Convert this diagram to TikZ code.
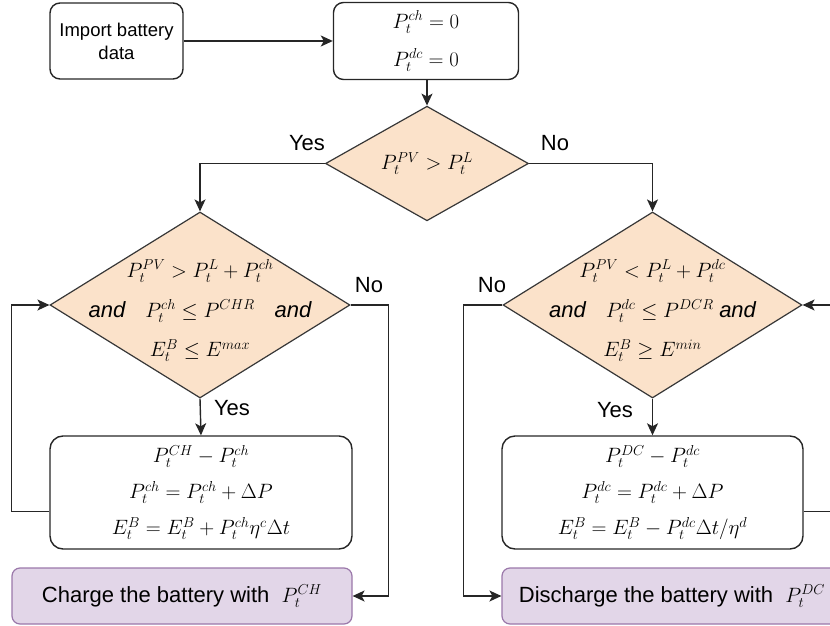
\documentclass[tikz,border=0pt]{standalone}
\usepackage{amsmath,amssymb}
\usepackage{fontspec}
\setmainfont{Liberation Sans}
\usepackage{tikz}
\usetikzlibrary{shapes,arrows,positioning,calc,arrows.meta}

\definecolor{condfill}{RGB}{251,226,202}
\definecolor{condedge}{RGB}{55,55,55}
\definecolor{endfill}{RGB}{226,214,232}
\definecolor{endedge}{RGB}{155,120,170}

% keeps the text of a decision from growing the diamond
\newcommand{\condlines}[1]{\smash{\makebox[0pt]{\raisebox{-12pt}{\begin{tabular}{@{}c@{}}#1\end{tabular}}}}}
\newcommand{\andword}{{\fontsize{22}{24}\selectfont\itshape and}}

\tikzset{
    procbox/.style={draw=black!85, line width=1.4pt, rounded corners=10pt, align=center, inner sep=2pt},
    decision/.style={diamond, draw=condedge, fill=condfill, line width=1.2pt, inner sep=0pt},
    endbox/.style={draw=endedge, fill=endfill, line width=1.2pt, rounded corners=8pt, inner sep=2pt,
        font=\fontsize{22}{26}\selectfont},
    lbl/.style={font=\fontsize{22}{26}\selectfont},
    flow/.style={draw=black!85, line width=1.4pt, -{Stealth[length=12pt,width=11pt,inset=3pt]}},
}

\begin{document}
\begin{tikzpicture}[x=1pt, y=-1pt, node distance=1.5cm,
    every node/.style={font=\fontsize{20}{24}\selectfont}]
    \useasboundingbox (0,0) rectangle (830,626);
    \clip (0,0) rectangle (830,626);

    % top row
    \node[procbox, minimum width=133pt, minimum height=76pt, font=\fontsize{18.5}{23}\selectfont] (import) at (116.5,41) {Import battery\\data};
    \node[procbox, minimum width=185pt, minimum height=77pt] (init) at (426,41) {$P_t^{ch}=0$\\[14pt]$P_t^{dc}=0$};

    % decisions
    \node[decision, minimum width=203pt, minimum height=93pt] (pvload) at (427,163.5) {$P_t^{PV} > P_t^{L}$};
    \node[decision, minimum width=300pt, minimum height=186pt] (chgcond) at (200,305)
        {\condlines{$P_t^{PV} > P_t^{L} + P_t^{ch}$\\[15pt]
        \andword\quad $P_t^{ch} \le P^{CHR}$\quad \andword\\[15pt]
        $E_t^{B} \le E^{max}$}};
    \node[decision, minimum width=299pt, minimum height=186pt] (dchcond) at (652.5,305)
        {\condlines{$P_t^{PV} < P_t^{L} + P_t^{dc}$\\[15pt]
        \andword\quad $P_t^{dc} \le P^{DCR}$\ \andword\\[15pt]
        $E_t^{B} \ge E^{min}$}};

    % updates
    \node[procbox, rounded corners=13pt, minimum width=302pt, minimum height=113pt] (chgstep) at (201,492.5)
        {$P_t^{CH} - P_t^{ch}$\\[12pt]$P_t^{ch} = P_t^{ch} + \Delta P$\\[12pt]$E_t^{B} = E_t^{B} + P_t^{ch}\eta^{c}\Delta t$};
    \node[procbox, rounded corners=13pt, minimum width=301pt, minimum height=113pt] (dchstep) at (652.5,492.5)
        {$P_t^{DC} - P_t^{dc}$\\[12pt]$P_t^{dc} = P_t^{dc} + \Delta P$\\[12pt]$E_t^{B} = E_t^{B} - P_t^{dc}\Delta t/\eta^{d}$};

    % results
    \node[endbox, minimum width=340pt, minimum height=56pt] (chgend) at (182,596) {Charge the battery with\ \ $P_t^{CH}$};
    \node[endbox, minimum width=340pt, minimum height=56pt] (dchend) at (672,596) {Discharge the battery with\ \ $P_t^{DC}$};

    % labels
    \node[lbl] (yes0) at (307,143) {Yes};
    \node[lbl] (no0) at (555,143) {No};
    \node[lbl] (no1) at (369,285) {No};
    \node[lbl] (yes1) at (232,408) {Yes};
    \node[lbl] (no2) at (492,285) {No};
    \node[lbl] (yes2) at (615,410) {Yes};

    % connectors
    \draw[flow] (import) -- (init);
    \draw[flow] (init.south -| pvload.north) -- (pvload.north);
    \draw[flow] (pvload.west) -| (chgcond.north);
    \draw[flow] (pvload.east) -| (dchcond.north);
    \draw[flow] (chgcond.south) -- (chgstep.north);
    \draw[flow] (dchcond.south) -- (dchstep.north);
    \draw[flow] (chgcond.east) -- ++(38,0) |- (chgend.east);
    \draw[flow] (dchcond.west) -- ++(-39,0) |- (dchend.west);
    \draw[flow] ([yshift=-19pt]chgstep.west) -- ++(-38,0) |- (chgcond.west);
    \draw[flow] ([yshift=-19pt]dchstep.east) -- ++(40,0) |- (dchcond.east);
\end{tikzpicture}
\end{document}
